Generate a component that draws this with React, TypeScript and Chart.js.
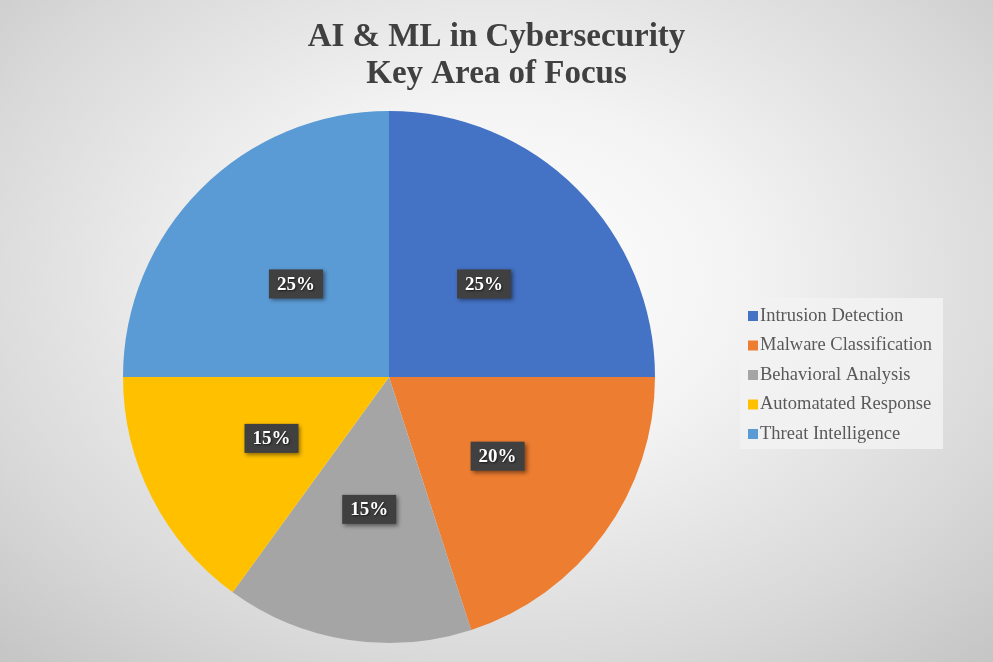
import React, { useEffect, useRef } from 'react'
import { Chart, registerables } from 'chart.js'

Chart.register(...registerables)

const titleLines = ['AI & ML in Cybersecurity', 'Key Area of Focus']
const categories = ['Intrusion Detection', 'Malware Classification', 'Behavioral Analysis', 'Automatated Response', 'Threat Intelligence']
const shares = [25, 20, 15, 15, 25]
const sliceColors = ['#4472C4', '#ED7D31', '#A5A5A5', '#FFC000', '#5B9BD5']

const SERIF = "'Liberation Serif', 'Times New Roman', serif"

// title, percent boxes and the boxed legend on the right
const decorations = {
    id: 'decorations',
    afterDraw(chart: any) {
        const ctx = chart.ctx as CanvasRenderingContext2D
        const cx = chart.width / 2

        ctx.save()
        ctx.fillStyle = '#404040'
        ctx.font = `bold 33px ${SERIF}`
        ctx.textAlign = 'center'
        ctx.textBaseline = 'middle'
        ctx.fillText(titleLines[0], cx, 37)
        ctx.fillText(titleLines[1], cx, 74)
        ctx.restore()

        const meta = chart.getDatasetMeta(0)
        meta.data.forEach((arc: any, i: number) => {
            const p = arc.getCenterPoint()
            const txt = shares[i] + '%'
            ctx.save()
            ctx.font = `bold 19px ${SERIF}`
            const w = ctx.measureText(txt).width + 16
            const h = 29
            ctx.shadowColor = 'rgba(0,0,0,0.45)'
            ctx.shadowBlur = 4
            ctx.shadowOffsetX = 2
            ctx.shadowOffsetY = 2
            ctx.fillStyle = '#404040'
            ctx.fillRect(p.x - w / 2 + 1, p.y - h / 2 + 1, w, h)
            ctx.shadowColor = 'rgba(0,0,0,0.6)'
            ctx.shadowBlur = 2
            ctx.shadowOffsetX = 1
            ctx.shadowOffsetY = 1
            ctx.fillStyle = '#ffffff'
            ctx.textAlign = 'center'
            ctx.textBaseline = 'middle'
            ctx.fillText(txt, p.x + 1, p.y + 2)
            ctx.restore()
        })

        // legend
        const lx = 740, ly = 298, lw = 203, lh = 151
        ctx.save()
        ctx.fillStyle = 'rgba(242,242,242,0.85)'
        ctx.fillRect(lx, ly, lw, lh)
        ctx.font = `18.5px ${SERIF}`
        ctx.textBaseline = 'middle'
        categories.forEach((c, i) => {
            const y = 315 + i * 29.5
            ctx.fillStyle = sliceColors[i]
            ctx.fillRect(lx + 8, y - 4, 10, 10)
            ctx.fillStyle = '#595959'
            ctx.fillText(c, lx + 20, y + 1)
        })
        ctx.restore()
    },
}

const App: React.FunctionComponent = () => {
    const chartRef = useRef<HTMLCanvasElement>(null)

    useEffect(() => {
        document.body.style.margin = '0'
        const ctx = chartRef.current!.getContext('2d') as CanvasRenderingContext2D

        const chart = new Chart(ctx, {
            type: 'pie',
            data: {
                labels: categories,
                datasets: [
                    {
                        data: shares,
                        backgroundColor: sliceColors,
                        borderWidth: 0,
                    },
                ],
            },
            options: {
                animation: false,
                responsive: false,
                layout: {
                    padding: { left: 123, right: 338, top: 111, bottom: 19 },
                },
                plugins: {
                    legend: { display: false },
                    tooltip: { enabled: false },
                },
            },
            plugins: [decorations],
        })

        return () => {
            chart.destroy()
        }
    }, [])

    return (
        <div
            style={{
                position: 'relative',
                width: 993,
                height: 662,
                background: 'radial-gradient(ellipse 72% 78% at 50% 42%, #ffffff 0%, #f3f3f3 35%, #d9d9d9 75%, #c6c6c6 100%)',
            }}
        >
            <canvas ref={chartRef} width={993} height={662}></canvas>
        </div>
    )
}

export default App
